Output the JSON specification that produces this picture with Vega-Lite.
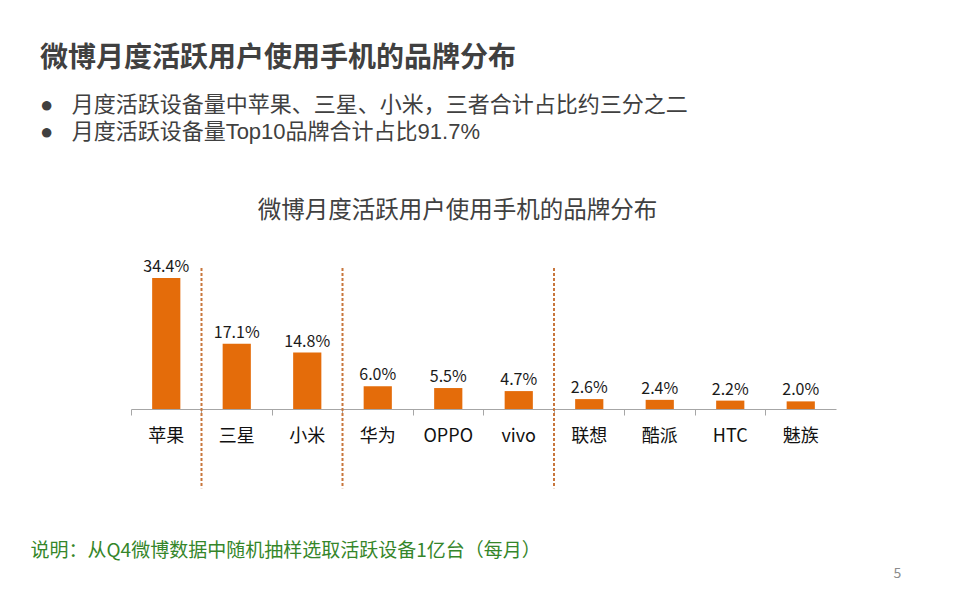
{
  "$schema": "https://vega.github.io/schema/vega-lite/v6.json",
  "autosize": {"type": "none"},
  "width": 705,
  "height": 141,
  "padding": {"left": 131, "top": 268, "right": 124, "bottom": 191},
  "background": "white",
  "config": {"font": "Noto Sans CJK SC", "view": {"stroke": null}},
  "datasets": {
    "brands": [
      {"brand": "苹果", "share": 34.4, "label": "34.4%"},
      {"brand": "三星", "share": 17.1, "label": "17.1%"},
      {"brand": "小米", "share": 14.8, "label": "14.8%"},
      {"brand": "华为", "share": 6.0, "label": "6.0%"},
      {"brand": "OPPO", "share": 5.5, "label": "5.5%"},
      {"brand": "vivo", "share": 4.7, "label": "4.7%"},
      {"brand": "联想", "share": 2.6, "label": "2.6%"},
      {"brand": "酷派", "share": 2.4, "label": "2.4%"},
      {"brand": "HTC", "share": 2.2, "label": "2.2%"},
      {"brand": "魅族", "share": 2.0, "label": "2.0%"}
    ],
    "seps": [
      {"sep": "三星", "top": 37, "bottom": -20.8},
      {"sep": "华为", "top": 37, "bottom": -20.8},
      {"sep": "联想", "top": 37, "bottom": -20.8}
    ]
  },
  "title": {
    "text": "微博月度活跃用户使用手机的品牌分布",
    "subtitle": ["●\u00a0\u00a0\u00a0月度活跃设备量中苹果、三星、小米，三者合计占比约三分之二", "●\u00a0\u00a0\u00a0月度活跃设备量Top10品牌合计占比91.7%"],
    "anchor": "start",
    "frame": "group",
    "dx": -91,
    "fontSize": 28,
    "fontWeight": "bold",
    "color": "#404040",
    "subtitleFont": "Liberation Sans, Noto Sans CJK SC",
    "subtitleFontSize": 22,
    "subtitleColor": "#404040",
    "subtitleLineHeight": 27,
    "subtitlePadding": 22,
    "offset": 55
  },
  "layer": [
    {
      "data": {"name": "brands"},
      "mark": {"type": "bar", "color": "#E46C0A", "width": {"band": 0.4}},
      "encoding": {
        "x": {
          "field": "brand", "type": "nominal", "sort": null,
          "scale": {"domain": ["苹果", "三星", "小米", "华为", "OPPO", "vivo", "联想", "酷派", "HTC", "魅族"], "paddingInner": 0, "paddingOuter": 0},
          "axis": {
            "orient": "bottom",
            "bandPosition": 0,
            "domainColor": "#A6A6A6",
            "tickColor": "#A6A6A6",
            "tickSize": 6,
            "labelAngle": 0,
            "labelFontSize": 18,
            "labelColor": "#111111",
            "labelPadding": 12,
            "title": "说明：从Q4微博数据中随机抽样选取活跃设备1亿台（每月）",
            "titleX": -101,
            "titleY": 141,
            "titleAlign": "left",
            "titleAnchor": "start",
            "titleBaseline": "middle",
            "titleFontSize": 19,
            "titleFontWeight": "normal",
            "titleColor": "#35862A"
          }
        },
        "y": {
          "field": "share", "type": "quantitative",
          "scale": {"domain": [0, 37], "nice": false},
          "axis": {
            "orient": "right",
            "domain": false, "ticks": false, "labels": false, "grid": false,
            "title": "5",
            "titleAngle": 0,
            "titleX": 61,
            "titleY": 305,
            "titleAlign": "center",
            "titleBaseline": "middle",
            "titleFontSize": 14,
            "titleFontWeight": "normal",
            "titleColor": "#8C8C8C"
          }
        }
      }
    },
    {
      "data": {"name": "brands"},
      "mark": {"type": "text", "dy": -11, "fontSize": 16, "color": "#1A1A1A"},
      "encoding": {
        "x": {"field": "brand", "type": "nominal", "sort": null, "axis": null},
        "y": {"field": "share", "type": "quantitative", "axis": null},
        "text": {"field": "label"}
      }
    },
    {
      "data": {"name": "seps"},
      "mark": {"type": "rule", "color": "#C8763C", "strokeWidth": 2, "strokeDash": [3, 2]},
      "encoding": {
        "x": {
          "field": "sep", "type": "nominal", "bandPosition": 0,
          "axis": {
            "orient": "top",
            "domain": false, "ticks": false, "labels": false,
            "title": "微博月度活跃用户使用手机的品牌分布",
            "titleX": 326,
            "titleY": -58,
            "titleAlign": "center",
            "titleAnchor": "middle",
            "titleBaseline": "middle",
            "titleFontSize": 23.5,
            "titleFontWeight": "normal",
            "titleColor": "#404040"
          }
        },
        "y": {"field": "top", "type": "quantitative", "axis": null},
        "y2": {"field": "bottom"}
      }
    }
  ],
  "resolve": {"axis": {"x": "independent", "y": "independent"}}
}
